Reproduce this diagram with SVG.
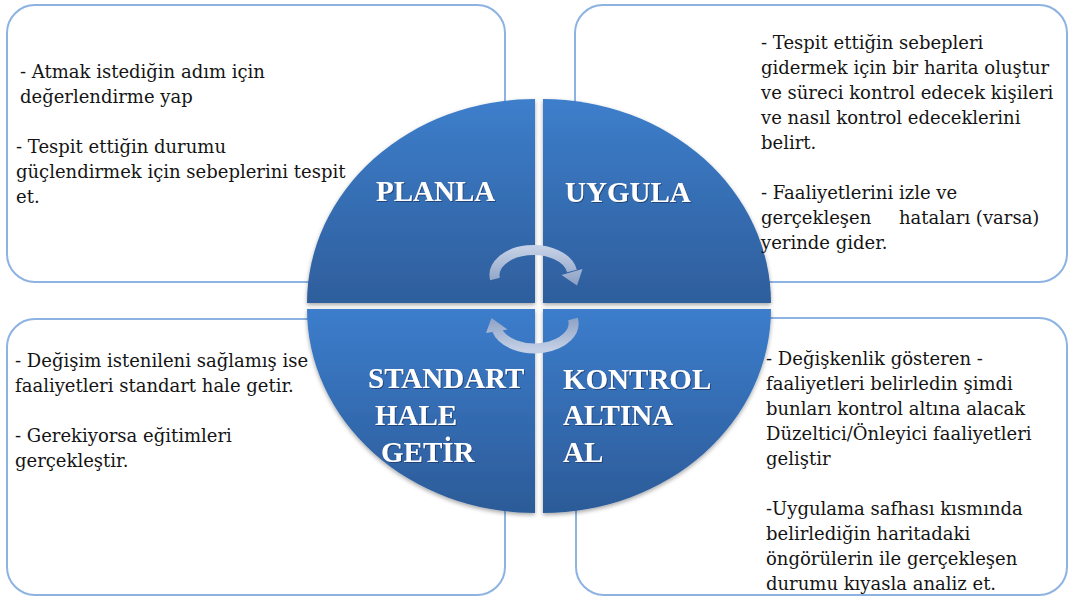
<svg xmlns="http://www.w3.org/2000/svg" width="1070" height="597" viewBox="0 0 1070 597">
<style>
.box{fill:#fff;stroke:#8db3e2;stroke-width:2}
.body{font-family:"DejaVu Serif","Liberation Serif",serif;font-size:18px;fill:#141414}
.lbl{font-family:"Liberation Serif","DejaVu Serif",serif;font-weight:bold;font-size:29px;fill:#fff;filter:url(#ts)}
.arrowband{fill:none;stroke-width:10}
</style>
<defs>
<linearGradient id="gTop" gradientUnits="userSpaceOnUse" x1="0" y1="99" x2="0" y2="303">
<stop offset="0" stop-color="#3d7ecb"/><stop offset="1" stop-color="#2e5e9c"/>
</linearGradient>
<linearGradient id="gBot" gradientUnits="userSpaceOnUse" x1="0" y1="309" x2="0" y2="513">
<stop offset="0" stop-color="#3c7dcc"/><stop offset="1" stop-color="#2c5b98"/>
</linearGradient>
<linearGradient id="aTop" gradientUnits="userSpaceOnUse" x1="0" y1="248" x2="0" y2="286">
<stop offset="0" stop-color="#c4d0e5"/><stop offset="1" stop-color="#8a9fc4"/>
</linearGradient>
<linearGradient id="aBot" gradientUnits="userSpaceOnUse" x1="0" y1="350" x2="0" y2="316">
<stop offset="0" stop-color="#c4d0e5"/><stop offset="1" stop-color="#8a9fc4"/>
</linearGradient>
<filter id="sh" x="-10%" y="-10%" width="120%" height="130%">
<feDropShadow dx="0" dy="2" stdDeviation="2" flood-color="#000" flood-opacity="0.35"/>
</filter>
<filter id="ts" x="-10%" y="-20%" width="120%" height="140%">
<feDropShadow dx="1" dy="1" stdDeviation="0.7" flood-color="#1a3560" flood-opacity="0.7"/>
</filter>
</defs>
<rect width="1070" height="597" fill="#fff"/>

<g id="box-planla"><rect class="box" x="7" y="5" width="498" height="277" rx="28"/></g>
<g id="box-uygula"><rect class="box" x="575" y="5" width="492" height="277" rx="28"/></g>
<g id="box-standart"><rect class="box" x="7" y="319" width="498" height="276" rx="28"/></g>
<g id="box-kontrol"><rect class="box" x="576" y="318" width="491" height="277" rx="28"/></g>

<g id="q-planla" filter="url(#sh)">
<path d="M535,303 L307,303 A228,204 0 0 1 535,99 Z" fill="url(#gTop)"/>
<text class="lbl" x="376" y="201">PLANLA</text>
</g>
<g id="q-uygula" filter="url(#sh)">
<path d="M543,303 L543,99 A228,204 0 0 1 771,303 Z" fill="url(#gTop)"/>
<text class="lbl" x="565" y="202">UYGULA</text>
</g>
<g id="q-standart" filter="url(#sh)">
<path d="M535,309 L535,513 A228,204 0 0 1 307,309 Z" fill="url(#gBot)"/>
<text class="lbl" x="368" y="388">STANDART</text>
<text class="lbl" x="375" y="425">HALE</text>
<text class="lbl" x="381" y="462">GETİR</text>
</g>
<g id="q-kontrol" filter="url(#sh)">
<path d="M543,309 L771,309 A228,204 0 0 1 543,513 Z" fill="url(#gBot)"/>
<text class="lbl" x="563" y="389">KONTROL</text>
<text class="lbl" x="563" y="425">ALTINA</text>
<text class="lbl" x="563" y="462">AL</text>
</g>

<g id="text-planla" class="body">
<text x="20" y="78">- Atmak istediğin adım için</text>
<text x="20" y="103">değerlendirme yap</text>
<text x="16" y="153">- Tespit ettiğin durumu</text>
<text x="16" y="178">güçlendirmek için sebeplerini tespit</text>
<text x="16" y="203">et.</text>
</g>
<g id="text-uygula" class="body">
<text x="761" y="49">- Tespit ettiğin sebepleri</text>
<text x="761" y="74">gidermek için bir harita oluştur</text>
<text x="761" y="99">ve süreci kontrol edecek kişileri</text>
<text x="761" y="124">ve nasıl kontrol edeceklerini</text>
<text x="761" y="149">belirt.</text>
<text x="761" y="199">- Faaliyetlerini izle ve</text>
<text x="761" y="224">gerçekleşen<tspan x="899">hataları (varsa)</tspan></text>
<text x="761" y="249">yerinde gider.</text>
</g>
<g id="text-standart" class="body">
<text x="15" y="367">- Değişim istenileni sağlamış ise</text>
<text x="15" y="392">faaliyetleri standart hale getir.</text>
<text x="15" y="442">- Gerekiyorsa eğitimleri</text>
<text x="15" y="467">gerçekleştir.</text>
</g>
<g id="text-kontrol" class="body">
<text x="766" y="365">- Değişkenlik gösteren -</text>
<text x="766" y="390">faaliyetleri belirledin şimdi</text>
<text x="766" y="415">bunları kontrol altına alacak</text>
<text x="766" y="440">Düzeltici/Önleyici faaliyetleri</text>
<text x="766" y="465">geliştir</text>
<text x="766" y="515">-Uygulama safhası kısmında</text>
<text x="766" y="540">belirlediğin haritadaki</text>
<text x="766" y="565">öngörülerin ile gerçekleşen</text>
<text x="766" y="590">durumu kıyasla analiz et.</text>
</g>

<g id="connectors">
<g id="arrow-top">
<path class="arrowband" d="M495,279 A39,25 0 0 1 572,271" stroke="url(#aTop)"/>
<polygon points="561.5,275 582.5,269 577,285.5" fill="url(#aTop)"/>
</g>
<g id="arrow-bottom">
<path class="arrowband" d="M573,319 A39,25 0 0 1 497,330" stroke="url(#aBot)"/>
<polygon points="486,333 507.5,329.5 491.5,318" fill="url(#aBot)"/>
</g>
</g>
</svg>
